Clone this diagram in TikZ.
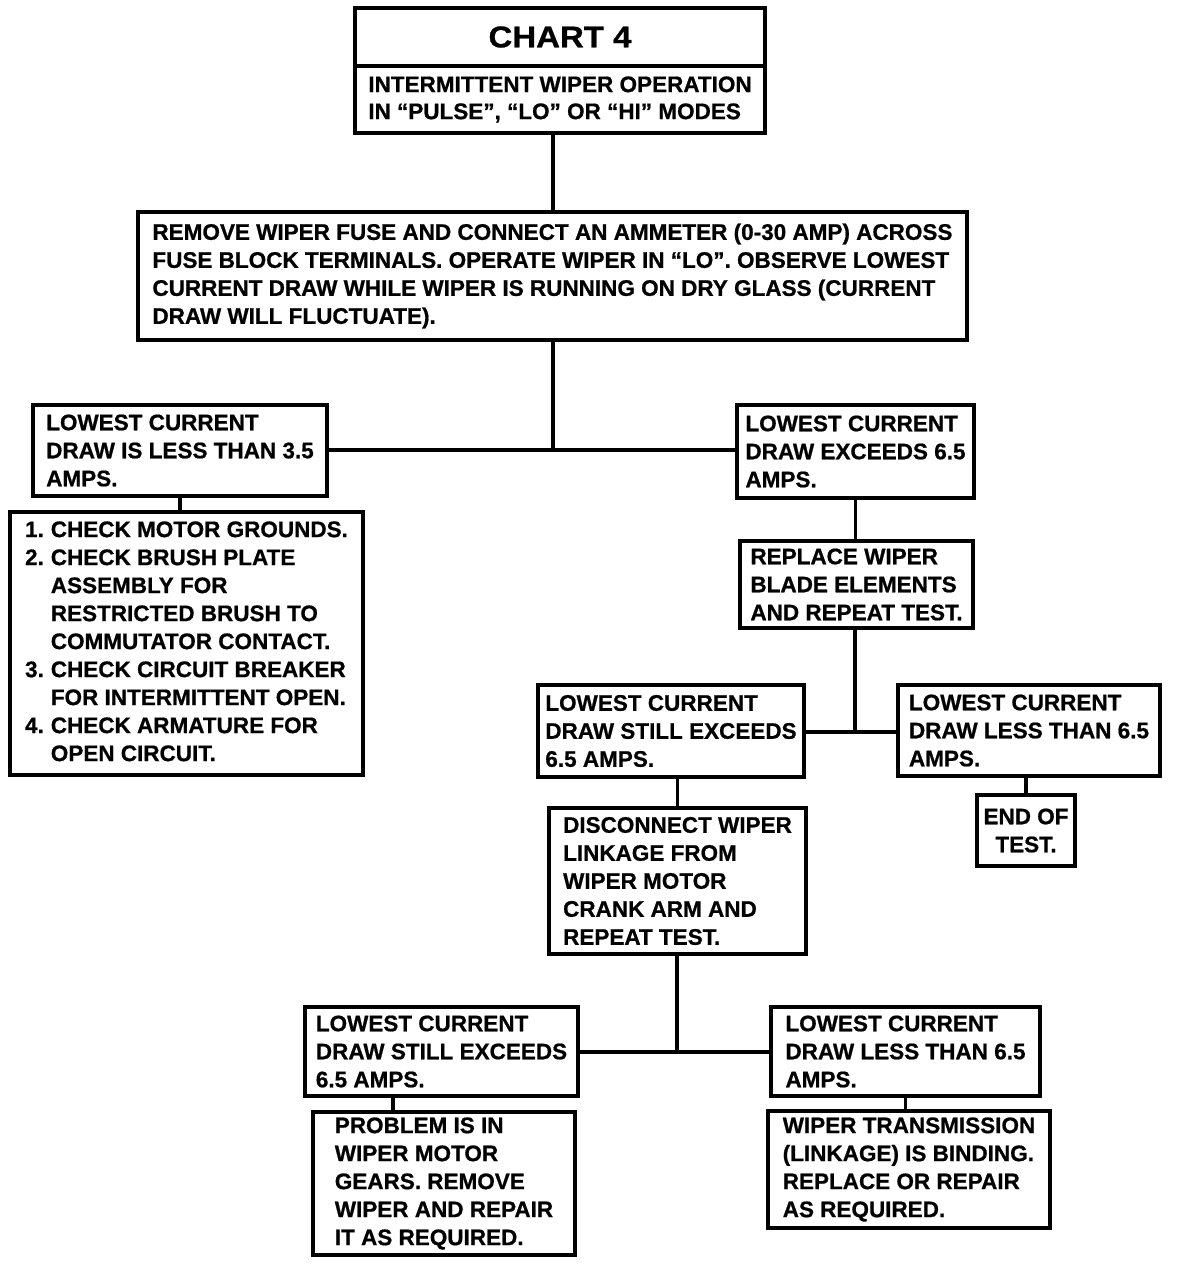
\documentclass[tikz,border=0pt]{standalone}
\usepackage{fontspec}
\setmainfont{Liberation Sans}[BoldFeatures={FakeBold=0.8}]
\newfontfamily\titlefont{Liberation Sans}[FakeStretch=1.1,BoldFeatures={FakeBold=0.8}]
\begin{document}
\begin{tikzpicture}[x=1pt,y=-1pt,
  box/.style={draw, line width=3.5pt, rectangle, align=left, inner sep=2pt,
    font=\fontsize{22.5}{28}\selectfont\bfseries},
  conn/.style={line width=3.5pt}]
\useasboundingbox (0,0) rectangle (1184,1264);
% title
\node[box, minimum width=410pt, minimum height=58pt, font=\titlefont\fontsize{30}{34}\selectfont\bfseries] (chart) at (560,37) {CHART 4};
\node[box, minimum width=410pt, minimum height=67pt, align=left, font=\fontsize{22.5}{27}\selectfont\bfseries] (sub) at (560,99.5) {INTERMITTENT WIPER OPERATION\\IN “PULSE”, “LO” OR “HI” MODES};
% first test
\node[box, minimum width=829pt, minimum height=128pt] (fuse) at (552.5,276) {REMOVE WIPER FUSE AND CONNECT AN AMMETER (0-30 AMP) ACROSS\\FUSE BLOCK TERMINALS. OPERATE WIPER IN “LO”. OBSERVE LOWEST\\CURRENT DRAW WHILE WIPER IS RUNNING ON DRY GLASS (CURRENT\\DRAW WILL FLUCTUATE).};
% left branch
\node[box, minimum width=294pt, minimum height=91pt] (lowA) at (180,450.5) {LOWEST CURRENT\\DRAW IS LESS THAN 3.5\\AMPS.};
\node[box, minimum width=353pt, minimum height=263pt] (checks) at (186.5,643.5) {\begin{tabular}{@{}l@{\hspace{7pt}}l@{}}
1. & CHECK MOTOR GROUNDS.\\
2. & CHECK BRUSH PLATE\\
   & ASSEMBLY FOR\\
   & RESTRICTED BRUSH TO\\
   & COMMUTATOR CONTACT.\\
3. & CHECK CIRCUIT BREAKER\\
   & FOR INTERMITTENT OPEN.\\
4. & CHECK ARMATURE FOR\\
   & OPEN CIRCUIT.
\end{tabular}};
% right branch
\node[box, minimum width=237pt, minimum height=93pt] (highA) at (855.5,451.5) {LOWEST CURRENT\\DRAW EXCEEDS 6.5\\AMPS.};
\node[box, minimum width=233pt, minimum height=87pt] (blade) at (856.5,584.5) {REPLACE WIPER\\BLADE ELEMENTS\\AND REPEAT TEST.};
\node[box, minimum width=266pt, minimum height=92pt] (stillA) at (671,731) {LOWEST CURRENT\\DRAW STILL EXCEEDS\\6.5 AMPS.};
\node[box, minimum width=262pt, minimum height=91pt] (lessA) at (1029,730.5) {LOWEST CURRENT\\DRAW LESS THAN 6.5\\AMPS.};
\node[box, minimum width=98pt, minimum height=71pt, align=center] (endt) at (1026,830.5) {END OF\\TEST.};
\node[box, minimum width=257pt, minimum height=146pt] (disc) at (677.5,881) {DISCONNECT WIPER\\LINKAGE FROM\\WIPER MOTOR\\CRANK ARM AND\\REPEAT TEST.};
\node[box, minimum width=273pt, minimum height=89pt] (stillB) at (441.5,1051.5) {LOWEST CURRENT\\DRAW STILL EXCEEDS\\6.5 AMPS.};
\node[box, minimum width=269pt, minimum height=89pt] (lessB) at (905.5,1051.5) {LOWEST CURRENT\\DRAW LESS THAN 6.5\\AMPS.};
\node[box, minimum width=262pt, minimum height=143pt] (gears) at (444,1183.5) {PROBLEM IS IN\\WIPER MOTOR\\GEARS. REMOVE\\WIPER AND REPAIR\\IT AS REQUIRED.};
\node[box, minimum width=282pt, minimum height=117pt] (trans) at (909,1169.5) {WIPER TRANSMISSION\\(LINKAGE) IS BINDING.\\REPLACE OR REPAIR\\AS REQUIRED.};
% junctions
\coordinate (j1) at (553,450);
\coordinate (j2) at (855,732);
\coordinate (j3) at (677,1052);
\coordinate (k1) at (393,1100);
% connectors
\draw[conn] (sub.south -| j1) -- (fuse.north -| j1);
\draw[conn] (fuse.south -| j1) -- (j1);
\draw[conn] (lowA.east |- j1) -- (highA.west |- j1);
\draw[conn] (lowA.south) -- (lowA.south |- checks.north);
\draw[conn] (highA.south) -- (highA.south |- blade.north);
\draw[conn] (blade.south -| j2) -- (j2);
\draw[conn] (stillA.east |- j2) -- (lessA.west |- j2);
\draw[conn] (endt.north) -- (endt.north |- lessA.south);
\draw[conn] (disc.north) -- (disc.north |- stillA.south);
\draw[conn] (disc.south -| j3) -- (j3);
\draw[conn] (stillB.east |- j3) -- (lessB.west |- j3);
\draw[conn] (stillB.south -| k1) -- (gears.north -| k1);
\draw[conn] (lessB.south) -- (lessB.south |- trans.north);
\end{tikzpicture}
\end{document}
